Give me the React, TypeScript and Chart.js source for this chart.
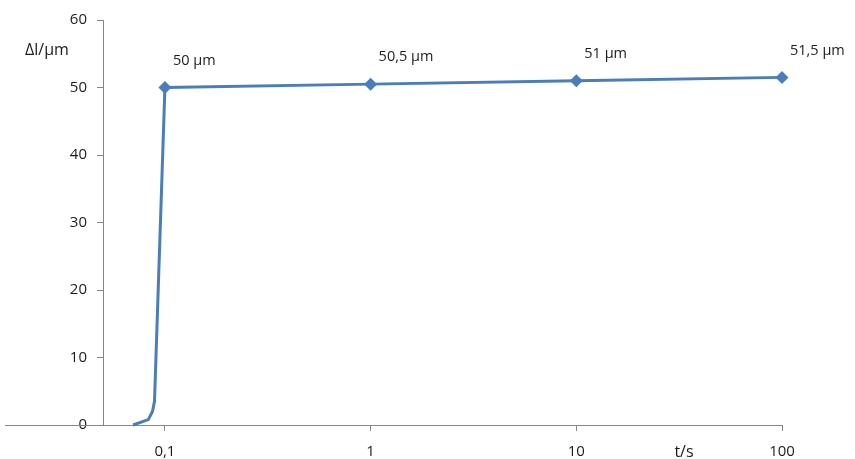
import React, { useEffect, useRef } from "react";
import { Chart, registerables } from "chart.js";

Chart.register(...registerables);

// Elongation over time (log time axis)
const timeSeconds = [0.07, 0.083, 0.087, 0.089, 0.1, 1, 10, 100];
const elongationUm = [0, 0.8, 2, 3.5, 50, 50.5, 51, 51.5];
const markerFlags = [false, false, false, false, true, true, true, true];
const pointLabels = ["", "", "", "", "50 µm", "50,5 µm", "51 µm", "51,5 µm"];

const xTickValues = [0.1, 1, 10, 100];
const xTickLabels = ["0,1", "1", "10", "100"];

const yAxisLabel = "Δl/µm";
const xAxisLabel = "t/s";

const FONT_FAMILY = "'Open Sans', 'DejaVu Sans', sans-serif";
const TEXT_COLOR = "#1c1c1c";
const AXIS_COLOR = "#868686";
const LINE_COLOR = "#4a7ebb";

const annotationPlugin = {
  id: "annotations",
  afterDraw(chart: any) {
    const { ctx, chartArea } = chart;
    ctx.save();
    // x axis line continues left past the y axis
    ctx.strokeStyle = AXIS_COLOR;
    ctx.lineWidth = 1;
    ctx.beginPath();
    const yb = Math.round(chartArea.bottom) + 0.5;
    ctx.moveTo(5, yb);
    ctx.lineTo(chartArea.left, yb);
    ctx.stroke();

    // point value labels
    ctx.fillStyle = TEXT_COLOR;
    ctx.font = `14.5px ${FONT_FAMILY}`;
    ctx.textAlign = "left";
    ctx.textBaseline = "middle";
    const meta = chart.getDatasetMeta(0);
    pointLabels.forEach((txt, i) => {
      if (!txt) return;
      const el = meta.data[i];
      ctx.fillText(txt, el.x + 8, el.y - 27);
    });

    // axis captions
    ctx.font = `16px ${FONT_FAMILY}`;
    ctx.textAlign = "left";
    ctx.fillText(yAxisLabel, 25, 50);
    ctx.textAlign = "center";
    ctx.fillText(xAxisLabel, 684, 452);
    ctx.restore();
  },
};

export default function App() {
  const canvasRef = useRef<HTMLCanvasElement | null>(null);

  useEffect(() => {
    if (!canvasRef.current) return;
    const chart = new Chart(canvasRef.current, {
      type: "line",
      data: {
        datasets: [
          {
            data: timeSeconds.map((t, i) => ({ x: t, y: elongationUm[i] })),
            borderColor: LINE_COLOR,
            backgroundColor: LINE_COLOR,
            borderWidth: 3,
            pointStyle: "rectRot",
            pointRadius: markerFlags.map((m) => (m ? 6.5 : 0)),
            pointBorderWidth: 0,
            tension: 0,
            fill: false,
            clip: false,
          },
        ],
      },
      options: {
        responsive: false,
        animation: false,
        layout: { padding: { left: 0, top: 20, right: 73, bottom: 0 } },
        plugins: {
          legend: { display: false },
          tooltip: { enabled: false },
          title: { display: false },
        },
        scales: {
          x: {
            type: "logarithmic",
            min: 0.05,
            max: 100,
            afterBuildTicks: (scale: any) => {
              scale.ticks = xTickValues.map((v) => ({ value: v }));
            },
            afterFit: (scale: any) => {
              scale.height = 34;
            },
            ticks: {
              autoSkip: false,
              maxRotation: 0,
              padding: 12,
              color: TEXT_COLOR,
              font: { family: FONT_FAMILY, size: 15 },
              callback: (_v: any, i: number) => xTickLabels[i],
            },
            grid: {
              drawOnChartArea: false,
              drawTicks: true,
              tickLength: 6,
              color: AXIS_COLOR,
            },
            border: { color: AXIS_COLOR, width: 1 },
          },
          y: {
            min: 0,
            max: 60,
            afterFit: (scale: any) => {
              scale.width = 103;
            },
            ticks: {
              stepSize: 10,
              padding: 10,
              color: TEXT_COLOR,
              font: { family: FONT_FAMILY, size: 15 },
            },
            grid: {
              drawOnChartArea: false,
              drawTicks: true,
              tickLength: 6,
              color: AXIS_COLOR,
            },
            border: { color: AXIS_COLOR, width: 1 },
          },
        },
      },
      plugins: [annotationPlugin],
    });
    return () => chart.destroy();
  }, []);

  return (
    <div style={{ position: "fixed", left: 0, top: 0, width: 855, height: 459, background: "#fff" }}>
      <canvas ref={canvasRef} width={855} height={459} />
    </div>
  );
}
